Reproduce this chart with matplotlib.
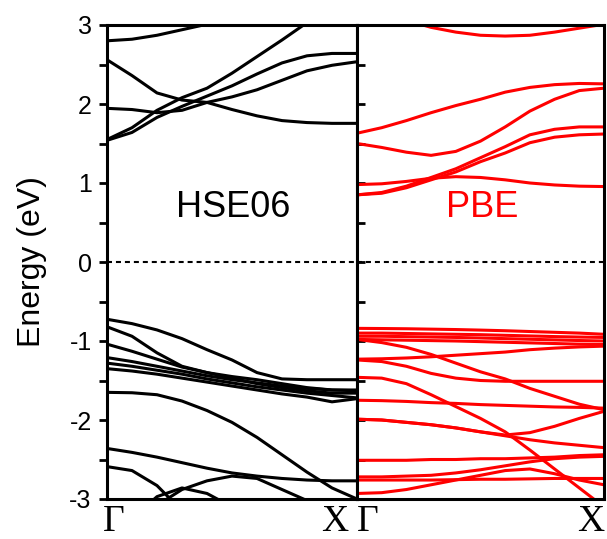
import matplotlib
matplotlib.use("Agg")
import matplotlib.pyplot as plt
from matplotlib.ticker import MultipleLocator

# k-path from Gamma (0) to X (1), energies in eV
K_PATH = [0.0, 0.1, 0.2, 0.3, 0.4, 0.5, 0.6, 0.7, 0.8, 0.9, 1.0]

HSE_CONDUCTION = [
    [2.80, 2.82, 2.87, 2.94, 3.01, 3.08, 3.15, 3.22, 3.28, 3.33, 3.36],
    [2.56, 2.36, 2.14, 2.05, 2.02, 1.93, 1.85, 1.79, 1.765, 1.755, 1.755],
    [1.945, 1.93, 1.89, 1.92, 2.02, 2.09, 2.18, 2.30, 2.42, 2.49, 2.535],
    [1.55, 1.70, 1.92, 2.08, 2.20, 2.39, 2.60, 2.81, 3.03, 3.25, 3.45],
    [1.54, 1.64, 1.83, 1.97, 2.10, 2.23, 2.38, 2.52, 2.61, 2.64, 2.64],
]

HSE_VALENCE = [
    [-0.725, -0.78, -0.86, -0.97, -1.11, -1.24, -1.40, -1.48, -1.49, -1.49, -1.49],
    [-0.82, -0.94, -1.15, -1.32, -1.40, -1.47, -1.54, -1.59, -1.63, -1.66, -1.66],
    [-1.04, -1.13, -1.23, -1.33, -1.40, -1.45, -1.49, -1.54, -1.59, -1.62, -1.63],
    [-1.21, -1.26, -1.32, -1.38, -1.44, -1.49, -1.53, -1.57, -1.60, -1.62, -1.62],
    [-1.28, -1.32, -1.37, -1.42, -1.48, -1.53, -1.58, -1.62, -1.66, -1.69, -1.72],
    [-1.35, -1.38, -1.42, -1.47, -1.52, -1.57, -1.62, -1.67, -1.71, -1.77, -1.73],
    [-1.65, -1.655, -1.68, -1.76, -1.88, -2.03, -2.22, -2.44, -2.66, -2.86, -3.0],
    [-2.36, -2.41, -2.47, -2.54, -2.61, -2.67, -2.71, -2.74, -2.76, -2.77, -2.77],
    [-2.59, -2.64, -2.83, -3.15, -3.4, -3.6, -3.8, -4.0, -4.2, -4.4, -4.6],
    [-3.5, -3.25, -2.97, -2.86, -2.93, -3.1, -3.3, -3.5, -3.7, -3.9, -4.1],
    [-3.6, -3.35, -3.08, -2.88, -2.77, -2.71, -2.74, -2.88, -3.02, -3.2, -3.4],
]

PBE_CONDUCTION = [
    [3.25, 3.15, 3.06, 2.97, 2.91, 2.87, 2.86, 2.87, 2.91, 2.96, 3.01],
    [1.63, 1.70, 1.79, 1.89, 1.98, 2.06, 2.15, 2.21, 2.245, 2.26, 2.255],
    [1.50, 1.45, 1.39, 1.35, 1.40, 1.53, 1.71, 1.91, 2.06, 2.17, 2.20],
    [0.98, 0.99, 1.02, 1.06, 1.08, 1.07, 1.04, 1.00, 0.975, 0.96, 0.955],
    [0.85, 0.88, 0.96, 1.07, 1.18, 1.32, 1.46, 1.61, 1.68, 1.71, 1.71],
    [0.85, 0.87, 0.94, 1.04, 1.14, 1.27, 1.38, 1.51, 1.58, 1.61, 1.62],
]

PBE_VALENCE = [
    [-0.84, -0.842, -0.845, -0.85, -0.855, -0.862, -0.87, -0.88, -0.89, -0.90, -0.915],
    [-0.90, -0.90, -0.905, -0.91, -0.915, -0.92, -0.928, -0.936, -0.944, -0.95, -0.955],
    [-0.94, -0.94, -0.945, -0.95, -0.955, -0.962, -0.97, -0.978, -0.986, -0.994, -1.0],
    [-0.98, -1.02, -1.08, -1.17, -1.28, -1.39, -1.48, -1.60, -1.70, -1.80, -1.87],
    [-0.98, -0.985, -0.99, -0.995, -1.0, -1.008, -1.016, -1.024, -1.032, -1.04, -1.045],
    [-1.23, -1.225, -1.215, -1.20, -1.18, -1.16, -1.14, -1.11, -1.09, -1.075, -1.065],
    [-1.24, -1.26, -1.32, -1.41, -1.47, -1.50, -1.51, -1.51, -1.51, -1.51, -1.51],
    [-1.75, -1.755, -1.765, -1.78, -1.79, -1.805, -1.815, -1.825, -1.835, -1.84, -1.85],
    [-1.46, -1.47, -1.54, -1.68, -1.83, -1.98, -2.15, -2.38, -2.62, -2.86, -3.1],
    [-1.99, -2.0, -2.03, -2.06, -2.10, -2.15, -2.19, -2.16, -2.08, -1.98, -1.89],
    [-1.99, -2.0, -2.03, -2.06, -2.10, -2.15, -2.20, -2.25, -2.29, -2.32, -2.35],
    [-2.51, -2.51, -2.51, -2.50, -2.50, -2.49, -2.49, -2.48, -2.47, -2.45, -2.44],
    [-2.72, -2.72, -2.71, -2.70, -2.67, -2.63, -2.58, -2.53, -2.49, -2.47, -2.46],
    [-2.76, -2.76, -2.76, -2.76, -2.755, -2.75, -2.75, -2.745, -2.74, -2.74, -2.74],
    [-2.93, -2.92, -2.88, -2.82, -2.76, -2.70, -2.64, -2.62, -2.68, -2.76, -2.82],
]

K_LABELS = ["\u0393", "X"]
PANEL_NAMES = ["HSE06", "PBE"]
PANEL_COLORS = ["black", "red"]

SANS = "Liberation Sans"
SERIF = "Liberation Serif"


def draw_panel(ax, bands, color, name, left_panel):
    for energies in bands:
        ax.plot(K_PATH, energies, color=color, linewidth=2.2,
                solid_capstyle="round", solid_joinstyle="round")
    ax.axhline(0.0, color="black", linewidth=1.5, linestyle=(0, (2.4, 1.9)))

    ax.set_xlim(0, 1)
    ax.set_ylim(-3, 3)
    ax.set_xticks([])
    ax.yaxis.set_major_locator(MultipleLocator(1))
    ax.yaxis.set_minor_locator(MultipleLocator(0.5))
    ax.tick_params(axis="y", which="both", direction="out" if left_panel else "in",
                   length=6, width=2, labelsize=18, pad=5, labelleft=left_panel)
    for label in ax.get_yticklabels():
        label.set_fontfamily(SANS)
    for spine in ax.spines.values():
        spine.set_linewidth(2.2)

    ax.text(0.505, 0.615, name, transform=ax.transAxes, ha="center", va="center",
            fontsize=26, color=color, family=SANS)

    # k-point labels sit just under the bottom spine
    if left_panel:
        k_left, k_right = -0.016, 0.964
    else:
        k_left, k_right = 0.0, 1.0
    ax.text(k_left, -0.068, K_LABELS[0], transform=ax.transAxes, ha="left",
            va="baseline", fontsize=27, family=SERIF)
    ax.text(k_right, -0.068, K_LABELS[1], transform=ax.transAxes, ha="right",
            va="baseline", fontsize=27, family=SERIF)


def main():
    plt.rcParams["axes.unicode_minus"] = False
    plt.rcParams["font.family"] = [SANS, "DejaVu Sans"]

    fig = plt.figure(figsize=(6.07, 5.39), dpi=100)
    fig.patch.set_facecolor("white")
    ax_hse = fig.add_axes([107 / 607, 40 / 539, 250 / 607, 474 / 539])
    ax_pbe = fig.add_axes([357 / 607, 40 / 539, 247 / 607, 474 / 539])

    draw_panel(ax_hse, HSE_CONDUCTION + HSE_VALENCE, PANEL_COLORS[0], PANEL_NAMES[0], True)
    draw_panel(ax_pbe, PBE_CONDUCTION + PBE_VALENCE, PANEL_COLORS[1], PANEL_NAMES[1], False)

    ax_hse.set_ylabel("Energy (eV)", fontsize=23, labelpad=16, family=SANS)

    fig.savefig("out.png", dpi=100)
    plt.close(fig)


if __name__ == "__main__":
    main()
